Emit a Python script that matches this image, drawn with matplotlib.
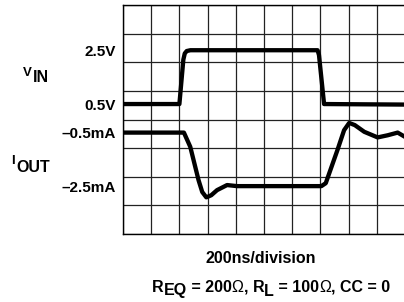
import matplotlib
matplotlib.use("Agg")
import matplotlib.pyplot as plt

# scope traces: time in ns, VIN in volts, IOUT in mA
vin_t = [0, 400, 428, 438, 452, 478, 1380, 1390, 1426, 1700, 2000]
vin_v = [0.5, 0.5, 2.15, 2.38, 2.47, 2.5, 2.5, 2.32, 0.5, 0.49, 0.48]

iout_t = [0, 432, 477, 536, 562, 591, 626, 667, 738, 809, 1407, 1438,
          1521, 1568, 1604, 1644, 1711, 1806, 1877, 1948, 2000]
iout_ma = [-0.5, -0.5, -1.03, -2.28, -2.72, -2.92, -2.84, -2.65, -2.46, -2.5, -2.5, -2.39,
           -1.15, -0.41, -0.14, -0.22, -0.47, -0.68, -0.6, -0.5, -0.66]

tick_vals = [2.5, 0.5, -0.5, -2.5]
tick_labels = ["2.5V", "0.5V", "\u20130.5mA", "\u20132.5mA"]

# screen position of each channel (graticule divisions)
VIN_ZERO, VIN_SCALE = 4.07, 0.94
IOUT_ZERO, IOUT_SCALE = 4.01, 0.935

W, H = 404, 302
FONT = "Liberation Sans"
FS = 11.5


def vin_div(v):
    return VIN_ZERO + v * VIN_SCALE


def iout_div(i):
    return IOUT_ZERO + i * IOUT_SCALE


def draw_pieces(fig, pieces, cx, baseline):
    # lay out pieces of text left to right, centred on cx (pixels from top-left)
    # dy > 0 pushes a piece down (subscript)
    renderer = fig.canvas.get_renderer()
    items = []
    x = 0
    for s, dy, weight in pieces:
        t = fig.text(0, 0, s, fontsize=FS, fontweight=weight, family=FONT,
                     ha="left", va="baseline", transform=None)
        w = t.get_window_extent(renderer).width
        items.append((t, x, dy))
        x += w
    x0 = cx - x / 2
    for t, off, dy in items:
        t.set_position((x0 + off, H - (baseline + dy)))


fig = plt.figure(figsize=(W / 100, H / 100), dpi=100)
ax = fig.add_axes([123 / W, 1 - 234 / H, (W - 123 + 1) / W, 229 / H])

ax.plot(vin_t, [vin_div(v) for v in vin_v], color="black", lw=3.1,
        solid_joinstyle="round", solid_capstyle="butt")
ax.plot(iout_t, [iout_div(i) for i in iout_ma], color="black", lw=3.1,
        solid_joinstyle="round", solid_capstyle="butt")

ax.set_xlim(0, 2000)
ax.set_ylim(0, 8)
ax.set_xticks(range(0, 2001, 200))
ax.set_xticklabels([])
ax.set_yticks([0, 1, 2, 3, 4, 5, 6, 7, 8], minor=True)
ax.set_yticks([vin_div(tick_vals[0]), vin_div(tick_vals[1]),
               iout_div(tick_vals[2]), iout_div(tick_vals[3])])
ax.set_yticklabels(tick_labels, fontsize=FS - 0.5, fontweight="bold", family=FONT)
ax.tick_params(which="both", length=0, pad=5)
ax.grid(True, which="major", axis="x", color="#222222", lw=0.9)
ax.grid(True, which="minor", axis="y", color="#222222", lw=0.9)
ax.set_axisbelow(True)
for sp in ax.spines.values():
    sp.set_linewidth(1.0)

# channel names
fig.text(22.5 / W, 1 - 75.5 / H, "V", fontsize=9.5, fontweight="bold", family=FONT, va="baseline")
fig.text(33 / W, 1 - 82 / H, "IN", fontsize=FS, fontweight="bold", family=FONT, va="baseline")
fig.text(11.5 / W, 1 - 163.5 / H, "I", fontsize=9.5, fontweight="bold", family=FONT, va="baseline")
fig.text(16 / W, 1 - 172 / H, "OUT", fontsize=FS, fontweight="bold", family=FONT, va="baseline")

draw_pieces(fig, [("200ns/division", 0, "bold")], 261, 263)
draw_pieces(fig, [
    ("R", 0, "bold"), ("EQ", 3.5, "bold"), (" = 200", 0, "bold"), ("\u03a9", 0, "normal"),
    (", R", 0, "bold"), ("L", 3.5, "bold"), (" = 100", 0, "bold"), ("\u03a9", 0, "normal"),
    (", CC = 0", 0, "bold"),
], 271, 292)

fig.savefig("out.png", dpi=100)
